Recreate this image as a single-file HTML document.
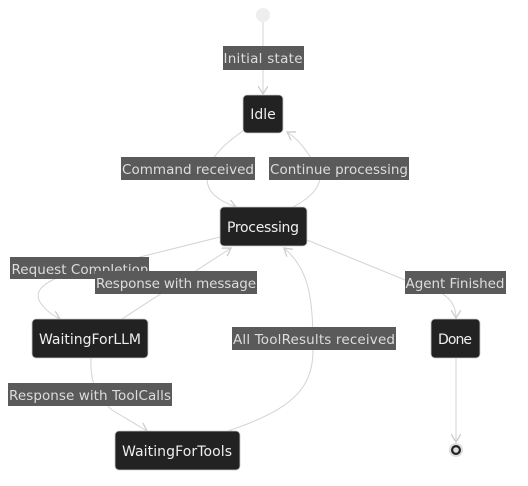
<!DOCTYPE html>
<html><head><style>
html,body{margin:0;padding:0;background:#fff;}
svg{display:block;}
text{font-family:"DejaVu Sans","Liberation Sans",sans-serif;font-size:13.5px;fill:#ddd;}
.n text{fill:#eee;font-size:14px;}
.e{fill:none;stroke:#d3d3d3;stroke-width:1;}
.lb{fill:#5a5a5a;}
</style></head><body>
<svg width="528" height="486" viewBox="0 0 528 486">
<defs><marker id="a" markerWidth="10" markerHeight="10" refX="8" refY="5" orient="auto" markerUnits="userSpaceOnUse"><path d="M0,0 L8,5 L0,10" fill="none" stroke="#ccc" stroke-width="1.3"/></marker></defs>
<circle cx="263" cy="15" r="7" fill="#eee"/>
<path class="e" d="M263,22 L263,94" marker-end="url(#a)"/>
<path class="e" d="M243,131 C215,150 200,170 210,190 C215,198 225,203 236,207" marker-end="url(#a)"/>
<path class="e" d="M293,207 C310,198 325,185 318,170 C310,155 300,140 287,132" marker-end="url(#a)"/>
<path class="e" d="M220,237 L120,262 C60,272 30,285 40,302 C45,310 52,315 60,319" marker-end="url(#a)"/>
<path class="e" d="M122,319 L231,248" marker-end="url(#a)"/>
<path class="e" d="M307,240 L410,282 C450,290 456,305 456,318" marker-end="url(#a)"/>
<path class="e" d="M91,358 C90,380 95,395 112,410 L147,431" marker-end="url(#a)"/>
<path class="e" d="M228,431 C290,410 313,390 313,350 C313,300 310,270 284,248" marker-end="url(#a)"/>
<path class="e" d="M456,358 L456,442" marker-end="url(#a)"/>
<circle cx="456" cy="450" r="7" fill="#ddd"/><circle cx="456" cy="450" r="5" fill="#222"/><circle cx="456" cy="450" r="2.8" fill="#ddd"/>
<g class="n">
<rect x="243" y="95" width="40" height="38" rx="4" fill="#222" stroke="#ccc" stroke-width="0.8"/><text x="263" y="119" text-anchor="middle">Idle</text>
<rect x="220" y="207" width="87" height="39" rx="4" fill="#222" stroke="#ccc" stroke-width="0.8"/><text x="263" y="232" text-anchor="middle" textLength="72">Processing</text>
<rect x="32" y="319" width="116" height="39" rx="4" fill="#222" stroke="#ccc" stroke-width="0.8"/><text x="90" y="344" text-anchor="middle" textLength="102">WaitingForLLM</text>
<rect x="431" y="319" width="49" height="39" rx="4" fill="#222" stroke="#ccc" stroke-width="0.8"/><text x="455" y="344" text-anchor="middle" textLength="34">Done</text>
<rect x="115" y="431" width="125" height="39" rx="4" fill="#222" stroke="#ccc" stroke-width="0.8"/><text x="177" y="456" text-anchor="middle" textLength="110">WaitingForTools</text>
</g>
<rect class="lb" x="223" y="46" width="81" height="24"/><text x="263" y="63" text-anchor="middle" textLength="79">Initial state</text>
<rect class="lb" x="121" y="157" width="134" height="23"/><text x="188" y="174" text-anchor="middle" textLength="132">Command received</text>
<rect class="lb" x="269" y="157" width="140" height="23"/><text x="339" y="174" text-anchor="middle" textLength="138">Continue processing</text>
<rect class="lb" x="10" y="257" width="139" height="22"/><text x="80" y="274" text-anchor="middle" textLength="137">Request Completion</text>
<rect class="lb" x="95" y="271" width="162" height="23"/><text x="176" y="288" text-anchor="middle" textLength="160">Response with message</text>
<rect class="lb" x="405" y="271" width="101" height="23"/><text x="455" y="288" text-anchor="middle" textLength="99">Agent Finished</text>
<rect class="lb" x="232" y="327" width="164" height="23"/><text x="314" y="344" text-anchor="middle" textLength="162">All ToolResults received</text>
<rect class="lb" x="8" y="383" width="164" height="23"/><text x="90" y="400" text-anchor="middle" textLength="162">Response with ToolCalls</text>
</svg>
</body></html>
